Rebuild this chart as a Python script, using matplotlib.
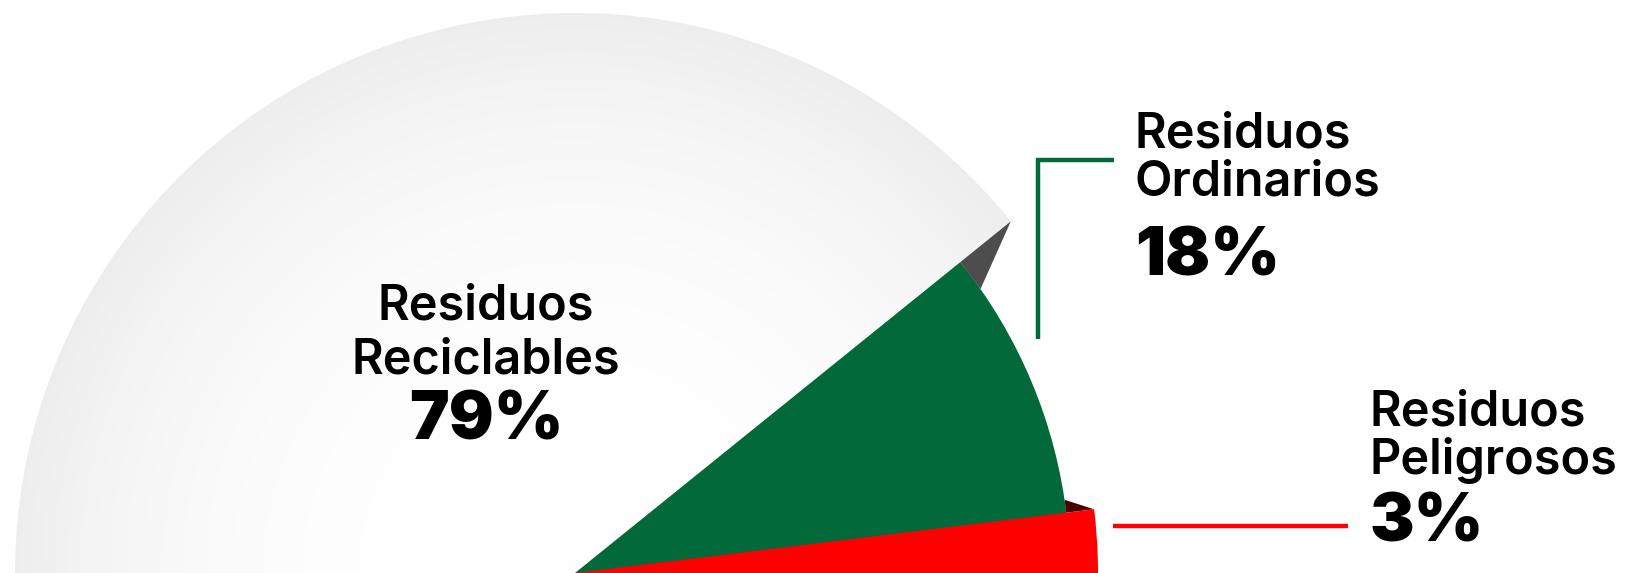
import numpy as np
import matplotlib.pyplot as plt
from matplotlib.patches import Wedge, Polygon

# data
labels = ['Residuos\nReciclables', 'Residuos\nOrdinarios', 'Residuos\nPeligrosos']
shares = [79, 18, 3]
colors = ['#f0f0f0', '#02693a', '#ff0000']
side_colors = ['#4d4d4d', '#4a0000']

# layout (pixel-like data units, y up)
W, H = 1634, 573
cx, cy = 575, 0
radii = [560, 495, 523]
split_angle = 38.9      # boundary between reciclables and ordinarios
red_top_angle = 7.0     # upper edge of peligrosos wedge

fig = plt.figure(figsize=(W / 100, H / 100), dpi=100)
ax = fig.add_axes([0, 0, 1, 1])
ax.set_xlim(0, W)
ax.set_ylim(0, H)
ax.axis('off')

spans = [s / sum(shares) * 360 for s in shares]

# reciclables: counter-clockwise from the split, radial gradient fill
grey = Wedge((cx, cy), radii[0], split_angle, split_angle + spans[0],
             facecolor='none', edgecolor='none')
ax.add_patch(grey)
xs = np.linspace(cx - radii[0], cx + radii[0], 600)
ys = np.linspace(cy - radii[0], cy + radii[0], 600)
gx, gy = np.meshgrid(xs, ys)
rr = np.clip(np.hypot(gx - cx, gy - cy) / radii[0], 0, 1)
shade = 1 - 0.068 * rr ** 3
img = np.dstack([shade, shade, shade])
im = ax.imshow(img, extent=[xs[0], xs[-1], ys[0], ys[-1]], origin='lower',
               interpolation='bilinear', zorder=1)
im.set_clip_path(grey)

# ordinarios: clockwise from the split
green = Wedge((cx, cy), radii[1], split_angle - spans[1], split_angle,
              facecolor=colors[1], edgecolor='none', zorder=2)
ax.add_patch(green)

# peligrosos
red = Wedge((cx, cy), radii[2], red_top_angle - spans[2], red_top_angle,
            facecolor=colors[2], edgecolor='none', zorder=3)
ax.add_patch(red)


def pol(r, a):
    t = np.radians(a)
    return (cx + r * np.cos(t), cy + r * np.sin(t))


# small side faces
ax.add_patch(Polygon([pol(radii[0], split_angle), pol(radii[1], split_angle),
                      pol(radii[1], split_angle - 3.9)],
                     closed=True, facecolor=side_colors[0], edgecolor='none', zorder=2))
ax.add_patch(Polygon([pol(radii[2], red_top_angle), pol(radii[1], red_top_angle),
                      pol(radii[1], red_top_angle + 1.5)],
                     closed=True, facecolor=side_colors[1], edgecolor='none', zorder=2))

# leader lines
ax.plot([1114, 1038, 1038], [H - 160, H - 160, H - 339], color=colors[1],
        lw=3.2, solid_joinstyle='miter', solid_capstyle='butt', zorder=4)
ax.plot([1113, 1348], [H - 526, H - 526], color=colors[2],
        lw=3.2, solid_capstyle='butt', zorder=4)

fam = ['Inter', 'DejaVu Sans']
name_size = 35
pct_size = 48


def put_label(x, base1, base2, base3, name, pct, ha):
    first, second = name.split('\n')
    ax.text(x, H - base1, first, ha=ha, va='baseline', fontsize=name_size,
            family=fam, fontweight='semibold', color='black', zorder=5)
    ax.text(x, H - base2, second, ha=ha, va='baseline', fontsize=name_size,
            family=fam, fontweight='semibold', color='black', zorder=5)
    ax.text(x, H - base3, pct, ha=ha, va='baseline', fontsize=pct_size,
            family=fam, fontweight='black', color='black', zorder=5)


put_label(486, 319, 374, 439, labels[0], f'{shares[0]}%', 'center')
put_label(1135, 148, 196, 275, labels[1], f'{shares[1]}%', 'left')
put_label(1370, 426, 474, 542, labels[2], f'{shares[2]}%', 'left')

fig.savefig('out.png', dpi=100)
